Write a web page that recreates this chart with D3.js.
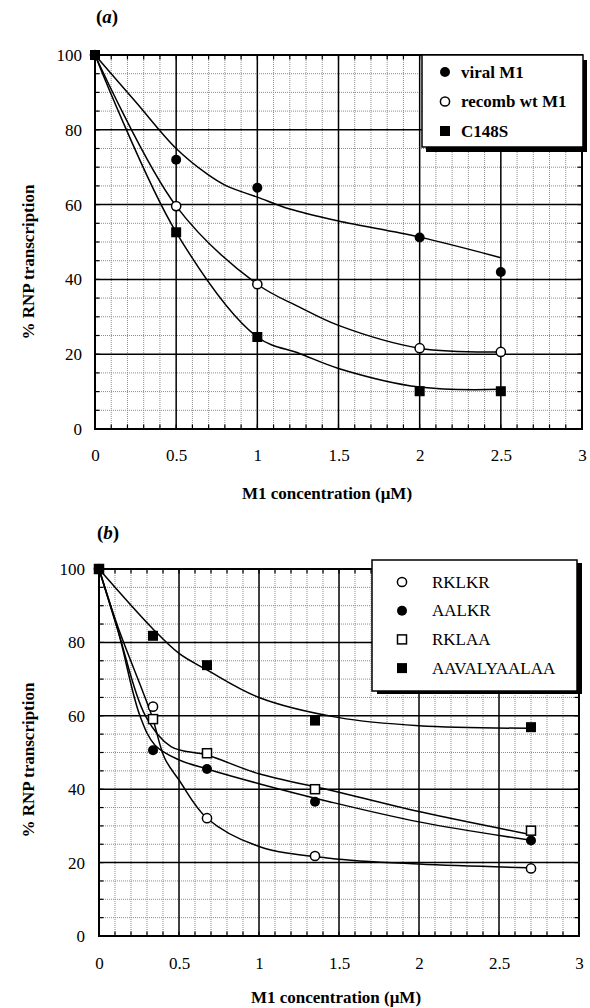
<!DOCTYPE html>
<html><head><meta charset="utf-8">
<script src="https://cdn.jsdelivr.net/npm/d3@7"></script>
<style>
body{margin:0;background:#fff}
svg{display:block}
</style>
</head><body><svg id="c" width="590" height="1008"></svg>
<script>
// ---------- shared ticks ----------
const xTicks = [0, 0.5, 1, 1.5, 2, 2.5, 3];
const yTicks = [0, 20, 40, 60, 80, 100];

// ---------- panel (a) ----------
const aConc    = [0, 0.5, 1, 2, 2.5];
const aViral   = [100, 72, 64.5, 51.2, 42];
const aRecomb  = [100, 59.6, 38.7, 21.6, 20.6];
const aC148S   = [100, 52.6, 24.6, 10.1, 10.1];
// fitted curves
const aViralFitX  = [0, 0.25, 0.5, 0.69, 0.81, 1, 1.2, 1.5, 2, 2.5];
const aViralFitY  = [100, 87.5, 75, 68.2, 65, 62, 58.8, 55.6, 51.3, 45.8];
const aRecombFitX = [0, 0.5, 1, 1.26, 1.5, 2, 2.5];
const aRecombFitY = [100, 59.6, 38.7, 32.6, 27.7, 21.6, 20.6];
const aC148SFitX  = [0, 0.5, 1, 1.26, 1.5, 2, 2.5];
const aC148SFitY  = [100, 52.6, 24.6, 20.2, 16.2, 11.2, 10.6];
const aLegend = ["viral M1", "recomb wt M1", "C148S"];

// ---------- panel (b) ----------
const bConc   = [0, 0.3375, 0.675, 1.35, 2.7];
const bRKLKR  = [100, 62.5, 32.1, 21.8, 18.4];
const bAALKR  = [100, 50.6, 45.5, 36.6, 26.0];
const bRKLAA  = [100, 59.1, 49.8, 40.0, 28.7];
const bAAVAL  = [100, 81.8, 73.8, 58.7, 56.9];
// fitted curves
const bRKLKRFitX = [0, 0.12, 0.33, 0.41, 0.5, 0.675, 1, 1.44, 2, 2.68];
const bRKLKRFitY = [100, 84, 60, 48.5, 42.5, 32.1, 24.4, 21.2, 19.6, 18.6];
const bAALKRFitX = [0, 0.12, 0.256, 0.35, 0.5, 0.675, 1, 1.44, 2, 2.68];
const bAALKRFitY = [100, 83, 60, 52, 48, 45.5, 41.5, 36.6, 31.1, 26.2];
const bRKLAAFitX = [0, 0.12, 0.29, 0.45, 0.675, 1, 1.44, 2, 2.68];
const bRKLAAFitY = [100, 83, 60, 51.6, 49.3, 44.2, 39.8, 33.9, 27.8];
const bAAVALFitX = [0, 0.33, 0.5, 0.675, 1, 1.5, 2, 2.68];
const bAAVALFitY = [100, 84, 77, 72.5, 65, 59.5, 57.3, 56.6];
const bLegend = ["RKLKR", "AALKR", "RKLAA", "AAVALYAALAA"];

const FONT = '"Liberation Serif", "Times New Roman", Times, serif';
const svg = d3.select("#c");

function marker(g, type, cx, cy) {
  if (type === "fc") g.append("circle").attr("cx", cx).attr("cy", cy).attr("r", 5).attr("fill", "#000");
  else if (type === "oc") g.append("circle").attr("cx", cx).attr("cy", cy).attr("r", 4.6).attr("fill", "#fff").attr("stroke", "#000").attr("stroke-width", 1.5);
  else if (type === "fs") g.append("rect").attr("x", cx - 5).attr("y", cy - 5).attr("width", 10).attr("height", 10).attr("fill", "#000");
  else if (type === "os") g.append("rect").attr("x", cx - 4.5).attr("y", cy - 4.5).attr("width", 9).attr("height", 9).attr("fill", "#fff").attr("stroke", "#000").attr("stroke-width", 1.5);
}

function panel(cfg) {
  const x = d3.scaleLinear().domain([0, 3]).range([cfg.left, cfg.right]);
  const y = d3.scaleLinear().domain([0, 100]).range([cfg.bottom, cfg.top]);
  const g = svg.append("g");

  // minor grid
  const xMinor = x.ticks(30).filter(v => !xTicks.some(t => Math.abs(t - v) < 1e-6));
  const yMinor = y.ticks(20).filter(v => !yTicks.some(t => Math.abs(t - v) < 1e-6));
  g.selectAll(".mx").data(xMinor).join("line")
    .attr("x1", d => x(d)).attr("x2", d => x(d)).attr("y1", y(0)).attr("y2", y(100))
    .attr("stroke", "#8c8c8c").attr("stroke-width", 1).attr("stroke-dasharray", "1,1");
  g.selectAll(".my").data(yMinor).join("line")
    .attr("y1", d => y(d)).attr("y2", d => y(d)).attr("x1", x(0)).attr("x2", x(3))
    .attr("stroke", "#8c8c8c").attr("stroke-width", 1).attr("stroke-dasharray", "1,1");
  // inside ticks at minor positions
  const tl = 4.5;
  g.selectAll(".tb").data(x.ticks(30)).join("line")
    .attr("x1", d => x(d)).attr("x2", d => x(d)).attr("y1", y(0)).attr("y2", y(0) - tl)
    .attr("stroke", "#000").attr("stroke-width", 1.2);
  g.selectAll(".tt").data(x.ticks(30)).join("line")
    .attr("x1", d => x(d)).attr("x2", d => x(d)).attr("y1", y(100)).attr("y2", y(100) + tl)
    .attr("stroke", "#000").attr("stroke-width", 1.2);
  g.selectAll(".tlf").data(y.ticks(20)).join("line")
    .attr("y1", d => y(d)).attr("y2", d => y(d)).attr("x1", x(0)).attr("x2", x(0) + tl)
    .attr("stroke", "#000").attr("stroke-width", 1.2);
  g.selectAll(".trt").data(y.ticks(20)).join("line")
    .attr("y1", d => y(d)).attr("y2", d => y(d)).attr("x1", x(3)).attr("x2", x(3) - tl)
    .attr("stroke", "#000").attr("stroke-width", 1.2);
  // major grid
  g.selectAll(".Mx").data(xTicks.slice(1, -1)).join("line")
    .attr("x1", d => x(d)).attr("x2", d => x(d)).attr("y1", y(0)).attr("y2", y(100))
    .attr("stroke", "#000").attr("stroke-width", 1.5);
  g.selectAll(".My").data(yTicks.slice(1, -1)).join("line")
    .attr("y1", d => y(d)).attr("y2", d => y(d)).attr("x1", x(0)).attr("x2", x(3))
    .attr("stroke", "#000").attr("stroke-width", 1.5);
  // frame
  g.append("rect").attr("x", x(0)).attr("y", y(100)).attr("width", x(3) - x(0)).attr("height", y(0) - y(100))
    .attr("fill", "none").attr("stroke", "#000").attr("stroke-width", 2);

  // axes labels via d3 axes
  const ax = g.append("g").attr("transform", `translate(0,${cfg.xLabY})`)
    .call(d3.axisBottom(x).tickValues(xTicks).tickSize(0).tickPadding(0).tickFormat(d => String(d)));
  ax.select(".domain").remove();
  ax.attr("font-family", null).attr("font-size", null);
  ax.selectAll("text").style("font-family", FONT).style("font-size", "17px").attr("fill", "#000");
  const ay = g.append("g").attr("transform", `translate(${cfg.yLabX},0)`)
    .call(d3.axisLeft(y).tickValues(yTicks).tickSize(0).tickPadding(0).tickFormat(d => String(d)));
  ay.select(".domain").remove();
  ay.attr("font-family", null).attr("font-size", null);
  ay.selectAll("text").style("font-family", FONT).style("font-size", "17px").attr("fill", "#000");

  // titles
  g.append("text").attr("x", cfg.xTitleX).attr("y", cfg.xTitleY).attr("text-anchor", "middle")
    .style("font-family", FONT).style("font-size", "17px").style("font-weight", "bold")
    .text("M1 concentration (μM)");
  g.append("text").attr("transform", `translate(${cfg.yTitleX},${cfg.yTitleY}) rotate(-90)`)
    .attr("text-anchor", "middle")
    .style("font-family", FONT).style("font-size", "17px").style("font-weight", "bold")
    .text("% RNP transcription");
  const pl = g.append("text").attr("x", cfg.tagX).attr("y", cfg.tagY)
    .style("font-family", FONT).style("font-size", "19px").style("font-weight", "bold");
  pl.append("tspan").text("(");
  pl.append("tspan").style("font-style", "italic").text(cfg.tag);
  pl.append("tspan").text(")");

  // curves
  const line = d3.line().x(d => x(d[0])).y(d => y(d[1])).curve(d3.curveCatmullRom.alpha(0.5));
  cfg.curves.forEach(c => {
    g.append("path").datum(d3.zip(c.x, c.y)).attr("d", line)
      .attr("fill", "none").attr("stroke", "#000").attr("stroke-width", 1.5);
  });
  // points
  cfg.series.forEach(s => {
    s.y.forEach((v, i) => marker(g, s.type, x(s.x[i]), y(v)));
  });

  // legend
  const L = cfg.legend;
  g.append("rect").attr("x", L.x + L.sx).attr("y", L.y + L.sy).attr("width", L.w).attr("height", L.h).attr("fill", "#000");
  g.append("rect").attr("x", L.x).attr("y", L.y).attr("width", L.w).attr("height", L.h)
    .attr("fill", "#fff").attr("stroke", "#000").attr("stroke-width", 1.5);
  L.items.forEach((it, i) => {
    const cy = L.y0 + i * L.dy;
    marker(g, it.type, L.mx, cy);
    g.append("text").attr("x", L.tx).attr("y", cy + 5.5)
      .style("font-family", FONT).style("font-size", "17px")
      .style("font-weight", L.bold ? "bold" : "normal").text(it.label);
  });
}

panel({
  left: 95, right: 582, top: 55, bottom: 429,
  xLabY: 449, yLabX: 82,
  xTitleX: 327, xTitleY: 499, yTitleX: 34, yTitleY: 262,
  tag: "a", tagX: 96, tagY: 23,
  curves: [
    { x: aViralFitX, y: aViralFitY },
    { x: aRecombFitX, y: aRecombFitY },
    { x: aC148SFitX, y: aC148SFitY }
  ],
  series: [
    { type: "oc", x: aConc, y: aRecomb },
    { type: "fc", x: aConc, y: aViral },
    { type: "fs", x: aConc, y: aC148S }
  ],
  legend: {
    x: 422, y: 55, w: 161, h: 92, sx: 4, sy: 5, bold: true,
    mx: 445, tx: 461, y0: 72, dy: 29.5,
    items: [
      { type: "fc", label: aLegend[0] },
      { type: "oc", label: aLegend[1] },
      { type: "fs", label: aLegend[2] }
    ]
  }
});

panel({
  left: 99, right: 579, top: 569, bottom: 936,
  xLabY: 957, yLabX: 85,
  xTitleX: 336, xTitleY: 1003, yTitleX: 34, yTitleY: 760,
  tag: "b", tagX: 97, tagY: 539,
  curves: [
    { x: bAAVALFitX, y: bAAVALFitY },
    { x: bRKLAAFitX, y: bRKLAAFitY },
    { x: bAALKRFitX, y: bAALKRFitY },
    { x: bRKLKRFitX, y: bRKLKRFitY }
  ],
  series: [
    { type: "oc", x: bConc, y: bRKLKR },
    { type: "fc", x: bConc, y: bAALKR },
    { type: "os", x: bConc, y: bRKLAA },
    { type: "fs", x: bConc, y: bAAVAL }
  ],
  legend: {
    x: 372, y: 560, w: 205, h: 131, sx: 5, sy: 3, bold: false,
    mx: 402, tx: 432, y0: 582, dy: 28.7,
    items: [
      { type: "oc", label: bLegend[0] },
      { type: "fc", label: bLegend[1] },
      { type: "os", label: bLegend[2] },
      { type: "fs", label: bLegend[3] }
    ]
  }
});
</script></body></html>
